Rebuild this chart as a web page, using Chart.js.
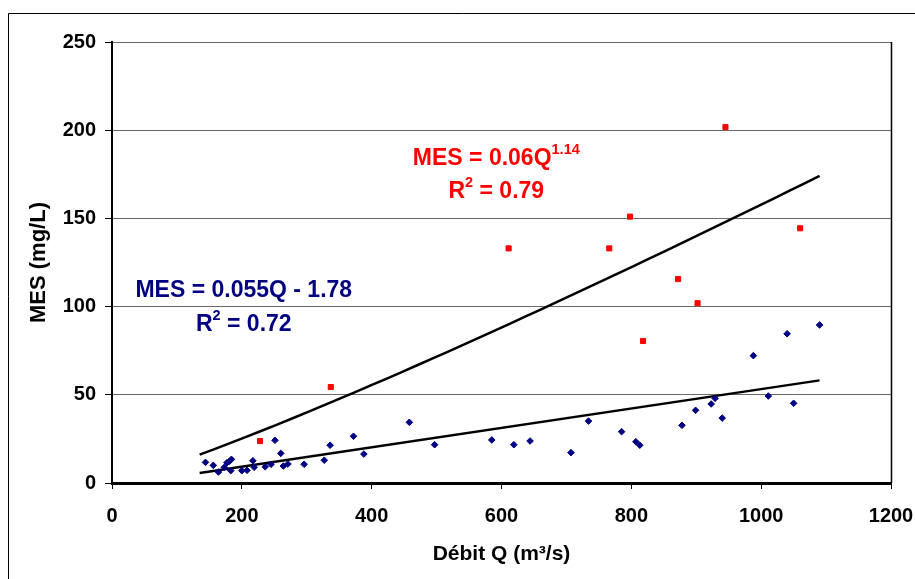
<!DOCTYPE html>
<html>
<head>
<meta charset="utf-8">
<script src="https://cdn.jsdelivr.net/npm/chart.js@4.4.1/dist/chart.umd.min.js"></script>
<style>
  html, body { margin: 0; padding: 0; background: #fff; }
  #wrap { width: 915px; height: 579px; }
</style>
</head>
<body>
<div id="wrap"><canvas id="mes-chart" width="915" height="579"></canvas></div>
<script>
// Débit Q (m3/s) vs MES (mg/L) - low-flow series (blue diamonds)
const blueQ = [144, 156, 164, 173, 177, 181, 184, 183, 200, 208, 217, 219, 236, 245, 251, 260, 264, 271, 296, 327,
               336, 372, 388, 458, 497, 585, 619, 644, 707, 734, 785, 807, 813, 878, 899, 923, 929, 940, 988, 1011,
               1040, 1050, 1090];
const blueMES = [11.7, 10.0, 6.2, 8.9, 11.5, 12.3, 13.4, 7.0, 7.0, 7.2, 12.6, 8.9, 9.2, 10.6, 24.2, 16.8, 9.6, 10.8, 10.6, 12.9,
                 21.4, 26.5, 16.4, 34.4, 21.7, 24.4, 21.7, 23.8, 17.2, 35.1, 29.1, 23.4, 21.4, 32.7, 41.2, 44.8, 48.0, 36.8, 72.2, 49.3,
                 84.6, 45.2, 89.6];

// flood-event series (red squares)
const redQ = [228, 337, 611, 766, 798, 818, 872, 902, 945, 1060];
const redMES = [23.8, 54.4, 133, 133, 151, 80.5, 115.6, 101.9, 201.8, 144.4];

// fitted relations, as printed on the chart
const linearFit = { slope: 0.055, intercept: -1.78, r2: 0.72 };
const powerFit = { coef: 0.06, exponent: 1.14, r2: 0.79 };
const fitRange = [135, 1090];

const xTicks = [0, 200, 400, 600, 800, 1000, 1200];
const yTicks = [0, 50, 100, 150, 200, 250];

const FONT = "'Liberation Sans', Arial, sans-serif";
const NAVY = '#000080';
const RED = '#ff0000';

function linearLine() {
    return fitRange.map(q => ({ x: q, y: linearFit.slope * q + linearFit.intercept }));
}

function powerLine() {
    const pts = [];
    const n = 40;
    for (let i = 0; i <= n; i++) {
        const q = fitRange[0] + (fitRange[1] - fitRange[0]) * i / n;
        pts.push({ x: q, y: powerFit.coef * Math.pow(q, powerFit.exponent) });
    }
    return pts;
}

// equation labels, anchored in data units (centre x, baseline y)
const eqLabels = [
    { x: 203, y: 105.3, color: NAVY, runs: [{ t: 'MES = ' + linearFit.slope + 'Q - ' + Math.abs(linearFit.intercept) }] },
    { x: 203, y: 86.2, color: NAVY, runs: [{ t: 'R' }, { t: '2', sup: true }, { t: ' = ' + linearFit.r2 }] },
    { x: 592, y: 180.3, color: RED, runs: [{ t: 'MES = ' + powerFit.coef + 'Q' }, { t: String(powerFit.exponent), sup: true }] },
    { x: 592, y: 161.7, color: RED, runs: [{ t: 'R' }, { t: '2', sup: true }, { t: ' = ' + powerFit.r2 }] }
];

const mainSize = 23;
const supSize = 14.5;

function runFont(r) {
    return 'bold ' + (r.sup ? supSize : mainSize) + 'px ' + FONT;
}

const framePlugin = {
    id: 'frame',
    beforeDraw(chart) {
        const ctx = chart.ctx;
        ctx.save();
        ctx.fillStyle = '#fff';
        ctx.fillRect(0, 0, chart.width, chart.height);
        // outer chart border (only left/top fall inside the canvas)
        ctx.strokeStyle = '#000';
        ctx.lineWidth = 1;
        ctx.beginPath();
        ctx.moveTo(8.5, chart.height + 5);
        ctx.lineTo(8.5, 13.5);
        ctx.lineTo(chart.width + 5, 13.5);
        ctx.stroke();
        ctx.restore();
    },
    afterDraw(chart) {
        const ctx = chart.ctx;
        const area = chart.chartArea;
        const xs = chart.scales.x;
        const ys = chart.scales.y;
        ctx.save();
        // plot area right edge
        ctx.strokeStyle = '#000';
        ctx.lineWidth = 1.5;
        ctx.beginPath();
        ctx.moveTo(Math.round(area.right) + 0.5, area.top);
        ctx.lineTo(Math.round(area.right) + 0.5, area.bottom);
        ctx.stroke();

        // equations with superscripts
        ctx.textBaseline = 'alphabetic';
        ctx.textAlign = 'left';
        eqLabels.forEach(lbl => {
            let total = 0;
            lbl.runs.forEach(r => { ctx.font = runFont(r); total += ctx.measureText(r.t).width; });
            let px = xs.getPixelForValue(lbl.x) - total / 2;
            const py = ys.getPixelForValue(lbl.y);
            ctx.fillStyle = lbl.color;
            lbl.runs.forEach(r => {
                ctx.font = runFont(r);
                ctx.fillText(r.t, px, r.sup ? py - 10.5 : py);
                px += ctx.measureText(r.t).width;
            });
        });
        ctx.restore();
    }
};

new Chart(document.getElementById('mes-chart').getContext('2d'), {
    type: 'scatter',
    data: {
        datasets: [
            {
                label: 'MES bleu',
                data: blueQ.map((q, i) => ({ x: q, y: blueMES[i] })),
                pointStyle: 'rectRot',
                pointRadius: 3.3,
                borderWidth: 1,
                backgroundColor: NAVY,
                borderColor: NAVY
            },
            {
                label: 'MES rouge',
                data: redQ.map((q, i) => ({ x: q, y: redMES[i] })),
                pointStyle: 'rect',
                pointRadius: 3.6,
                borderWidth: 1,
                backgroundColor: RED,
                borderColor: RED
            },
            {
                label: 'Régression linéaire',
                data: linearLine(),
                showLine: true,
                pointRadius: 0,
                borderColor: '#000',
                borderWidth: 2.5
            },
            {
                label: 'Régression puissance',
                data: powerLine(),
                showLine: true,
                pointRadius: 0,
                borderColor: '#000',
                borderWidth: 2.5
            }
        ]
    },
    options: {
        responsive: false,
        devicePixelRatio: 1,
        animation: false,
        layout: { padding: { top: 42, right: 24, left: 0, bottom: 0 } },
        plugins: {
            legend: { display: false },
            tooltip: { enabled: false }
        },
        scales: {
            x: {
                type: 'linear',
                min: 0,
                max: 1200,
                afterBuildTicks: s => { s.ticks = xTicks.map(v => ({ value: v })); },
                afterFit: s => {
                    s.height = 96;
                    // edge labels may overhang the plot area
                    s.paddingLeft = 0;
                    s.paddingRight = 0;
                },
                ticks: {
                    color: '#000',
                    font: { family: FONT, size: 20, weight: 'bold' },
                    padding: 15,
                    maxRotation: 0,
                    callback: v => String(v)
                },
                grid: { drawOnChartArea: false, tickLength: 6, tickColor: '#000', tickWidth: 1 },
                border: { color: '#000', width: 3 },
                title: {
                    display: true,
                    text: 'Débit Q (m³/s)',
                    color: '#000',
                    font: { family: FONT, size: 21, weight: 'bold' },
                    padding: { top: 0, bottom: 12 }
                }
            },
            y: {
                min: 0,
                max: 250,
                afterBuildTicks: s => { s.ticks = yTicks.map(v => ({ value: v })); },
                afterFit: s => {
                    s.width = 112;
                    s.paddingTop = 0;
                    s.paddingBottom = 0;
                },
                ticks: {
                    color: '#000',
                    font: { family: FONT, size: 20, weight: 'bold' },
                    padding: 9,
                    callback: v => String(v)
                },
                grid: { color: '#6a6a6a', lineWidth: 1, tickLength: 7, tickColor: '#000', tickWidth: 1 },
                border: { color: '#000', width: 2 },
                title: {
                    display: true,
                    text: 'MES (mg/L)',
                    color: '#000',
                    font: { family: FONT, size: 22, weight: 'bold' },
                    padding: { top: 26, bottom: 0 }
                }
            }
        }
    },
    plugins: [framePlugin]
});
</script>
</body>
</html>
